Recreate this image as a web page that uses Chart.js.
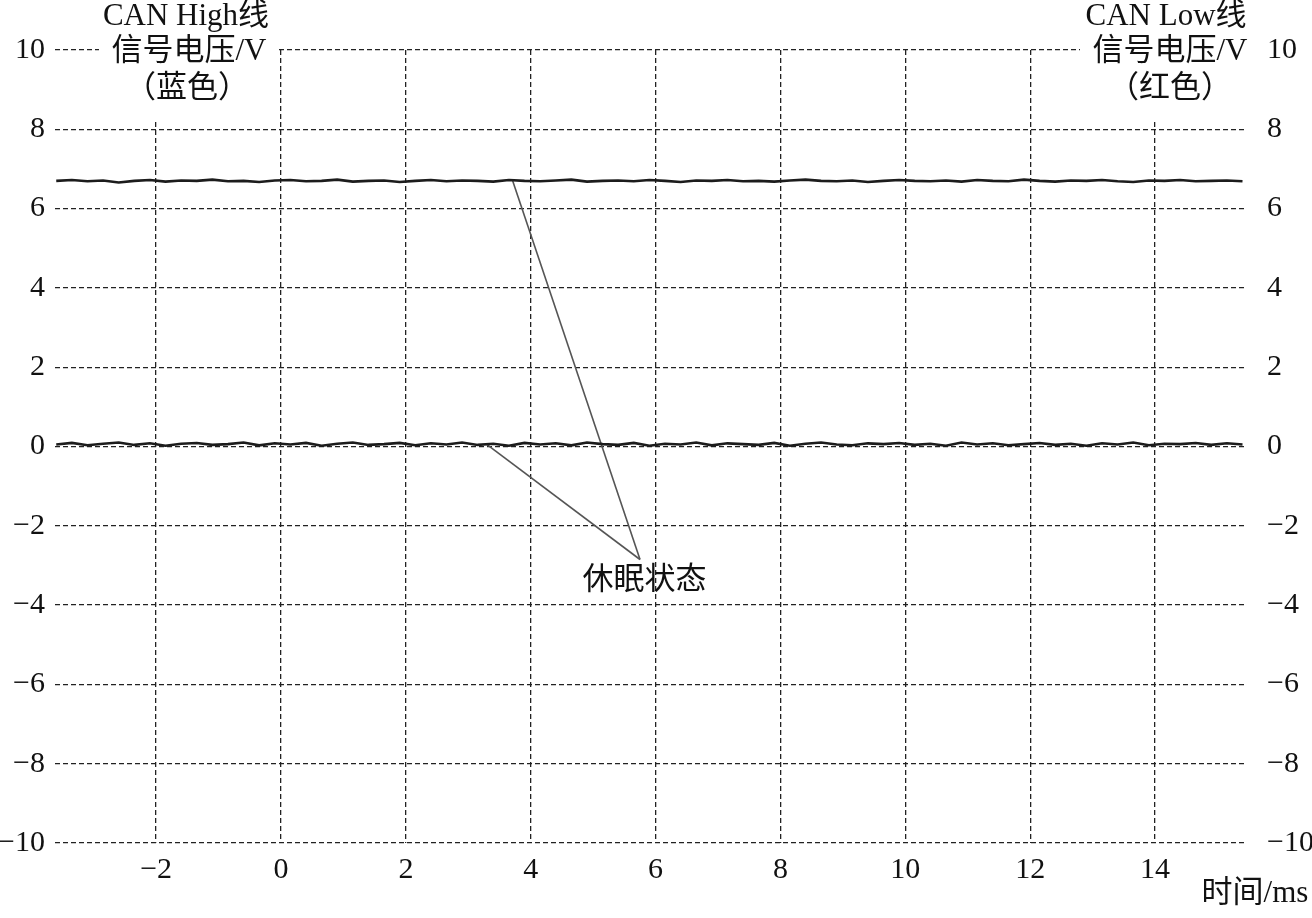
<!DOCTYPE html>
<html>
<head>
<meta charset="utf-8">
<script src="https://cdn.jsdelivr.net/npm/chart.js@4.4.1/dist/chart.umd.min.js"></script>
<style>
  body { margin: 0; background: #fff; }
  canvas { display: block; }
</style>
</head>
<body>
<canvas id="scope" width="1312" height="918"></canvas>
<script>
// time axis (ms) for both traces
var times = [
  -3.6, -3.35, -3.1, -2.85, -2.6, -2.35, -2.1, -1.85, -1.6, -1.35,
  -1.1, -0.85, -0.6, -0.35, -0.1, 0.15, 0.4, 0.65, 0.9, 1.15,
  1.4, 1.65, 1.9, 2.15, 2.4, 2.65, 2.9, 3.15, 3.4, 3.65,
  3.9, 4.15, 4.4, 4.65, 4.9, 5.15, 5.4, 5.65, 5.9, 6.15,
  6.4, 6.65, 6.9, 7.15, 7.4, 7.65, 7.9, 8.15, 8.4, 8.65,
  8.9, 9.15, 9.4, 9.65, 9.9, 10.15, 10.4, 10.65, 10.9, 11.15,
  11.4, 11.65, 11.9, 12.15, 12.4, 12.65, 12.9, 13.15, 13.4, 13.65,
  13.9, 14.15, 14.4, 14.65, 14.9, 15.15, 15.4
];

// CAN High trace (sleep state, ~6.7 V)
var canHigh = [
  6.70, 6.72, 6.69, 6.71, 6.66, 6.70, 6.72, 6.68, 6.71, 6.70,
  6.73, 6.69, 6.70, 6.67, 6.71, 6.72, 6.69, 6.70, 6.73, 6.68,
  6.70, 6.71, 6.67, 6.70, 6.72, 6.69, 6.71, 6.70, 6.68, 6.72,
  6.70, 6.69, 6.71, 6.73, 6.68, 6.70, 6.71, 6.69, 6.72, 6.70,
  6.67, 6.71, 6.70, 6.72, 6.69, 6.70, 6.68, 6.71, 6.73, 6.70,
  6.69, 6.71, 6.67, 6.70, 6.72, 6.70, 6.69, 6.71, 6.68, 6.72,
  6.70, 6.69, 6.73, 6.70, 6.68, 6.71, 6.70, 6.72, 6.69, 6.67,
  6.71, 6.70, 6.72, 6.69, 6.70, 6.71, 6.69
];

// CAN Low trace (sleep state, ~0 V)
var canLow = [
  0.05, 0.09, 0.03, 0.07, 0.10, 0.04, 0.08, 0.02, 0.07, 0.09,
  0.04, 0.06, 0.10, 0.03, 0.08, 0.05, 0.09, 0.02, 0.07, 0.10,
  0.04, 0.06, 0.09, 0.03, 0.08, 0.05, 0.10, 0.04, 0.07, 0.02,
  0.09, 0.05, 0.08, 0.03, 0.10, 0.06, 0.04, 0.09, 0.02, 0.07,
  0.05, 0.10, 0.03, 0.08, 0.06, 0.04, 0.09, 0.02, 0.07, 0.10,
  0.05, 0.03, 0.08, 0.06, 0.09, 0.04, 0.07, 0.02, 0.10, 0.05,
  0.08, 0.03, 0.06, 0.09, 0.04, 0.07, 0.02, 0.08, 0.05, 0.10,
  0.03, 0.07, 0.06, 0.09, 0.04, 0.08, 0.05
];

// tick labels
var xTicks = [-2, 0, 2, 4, 6, 8, 10, 12, 14];
var yTicks = [-10, -8, -6, -4, -2, 0, 2, 4, 6, 8, 10];

// annotation "休眠状态": leader lines from each trace to the label
var noteText = '休眠状态';
var notePoint = { x: 5.75, y: -2.85 };
var noteHighStart = { x: 3.71, y: 6.70 };
var noteLowStart = { x: 3.30, y: 0.05 };
var noteLabelAt = { x: 5.82, y: -3.38 };

var serif = '"Liberation Serif", "Times New Roman", "Noto Sans CJK SC", serif';
var tickSize = 30;
var titleSize = 31;

function toPoints(xs, ys) {
  return xs.map(function (x, i) { return { x: x, y: ys[i] }; });
}

function fmt(v) {
  return String(v).replace('-', '\u2212');
}

// axis titles and annotation label
var textPlugin = {
  id: 'scopeText',
  afterDraw: function (chart) {
    var ctx = chart.ctx;
    ctx.save();
    // blank out grid behind the corner titles
    ctx.fillStyle = '#fff';
    ctx.fillRect(99, 0, 177, 122);
    ctx.fillRect(1080, 0, 172, 122);

    ctx.fillStyle = '#111';
    ctx.font = titleSize + 'px ' + serif;
    ctx.textAlign = 'center';
    ctx.textBaseline = 'middle';
    ctx.fillText('CAN High线', 186, 17);
    ctx.fillText('信号电压/V', 189, 52);
    ctx.fillText('（蓝色）', 187, 89);
    ctx.fillText('CAN Low线', 1166, 17);
    ctx.fillText('信号电压/V', 1170, 52);
    ctx.fillText('（红色）', 1170, 89);
    ctx.fillText('时间/ms', 1255, 894);

    var xs = chart.scales.x, ys = chart.scales.y;
    ctx.fillText(noteText, xs.getPixelForValue(noteLabelAt.x), ys.getPixelForValue(noteLabelAt.y));
    ctx.restore();
  }
};

var ctx = document.getElementById('scope').getContext('2d');

new Chart(ctx, {
  type: 'line',
  data: {
    datasets: [
      {
        label: 'CAN High',
        data: toPoints(times, canHigh),
        borderColor: '#1c1c1c',
        borderWidth: 2.6,
        pointRadius: 0,
        tension: 0
      },
      {
        label: 'CAN Low',
        data: toPoints(times, canLow),
        borderColor: '#1c1c1c',
        borderWidth: 2.6,
        pointRadius: 0,
        tension: 0
      },
      {
        label: 'note high',
        data: [noteHighStart, notePoint],
        borderColor: '#555',
        borderWidth: 1.6,
        pointRadius: 0
      },
      {
        label: 'note low',
        data: [noteLowStart, notePoint],
        borderColor: '#555',
        borderWidth: 1.6,
        pointRadius: 0
      }
    ]
  },
  options: {
    responsive: false,
    animation: false,
    layout: { padding: { top: 50, left: 0, right: 0, bottom: 0 } },
    plugins: {
      legend: { display: false },
      tooltip: { enabled: false }
    },
    scales: {
      x: {
        type: 'linear',
        min: -3.62,
        max: 15.44,
        afterBuildTicks: function (axis) {
          axis.ticks = xTicks.map(function (v) { return { value: v }; });
        },
        afterFit: function (axis) { axis.height = 75; },
        grid: { color: '#222', lineWidth: 1.3, drawTicks: false },
        border: { display: false, dash: [5, 3] },
        ticks: {
          padding: 9,
          color: '#111',
          font: { family: serif, size: tickSize },
          callback: fmt
        }
      },
      y: {
        type: 'linear',
        position: 'left',
        min: -10,
        max: 10,
        afterBuildTicks: function (axis) {
          axis.ticks = yTicks.map(function (v) { return { value: v }; });
        },
        afterFit: function (axis) { axis.width = 55; },
        grid: { color: '#222', lineWidth: 1.3, drawTicks: false },
        border: { display: false, dash: [5, 3] },
        ticks: {
          padding: 10,
          color: '#111',
          font: { family: serif, size: tickSize },
          callback: fmt
        }
      },
      y2: {
        type: 'linear',
        position: 'right',
        min: -10,
        max: 10,
        afterBuildTicks: function (axis) {
          axis.ticks = yTicks.map(function (v) { return { value: v }; });
        },
        afterFit: function (axis) { axis.width = 67; },
        grid: { display: false, drawTicks: false },
        border: { display: false },
        ticks: {
          padding: 22,
          color: '#111',
          font: { family: serif, size: tickSize },
          callback: fmt
        }
      }
    }
  },
  plugins: [textPlugin]
});
</script>
</body>
</html>
